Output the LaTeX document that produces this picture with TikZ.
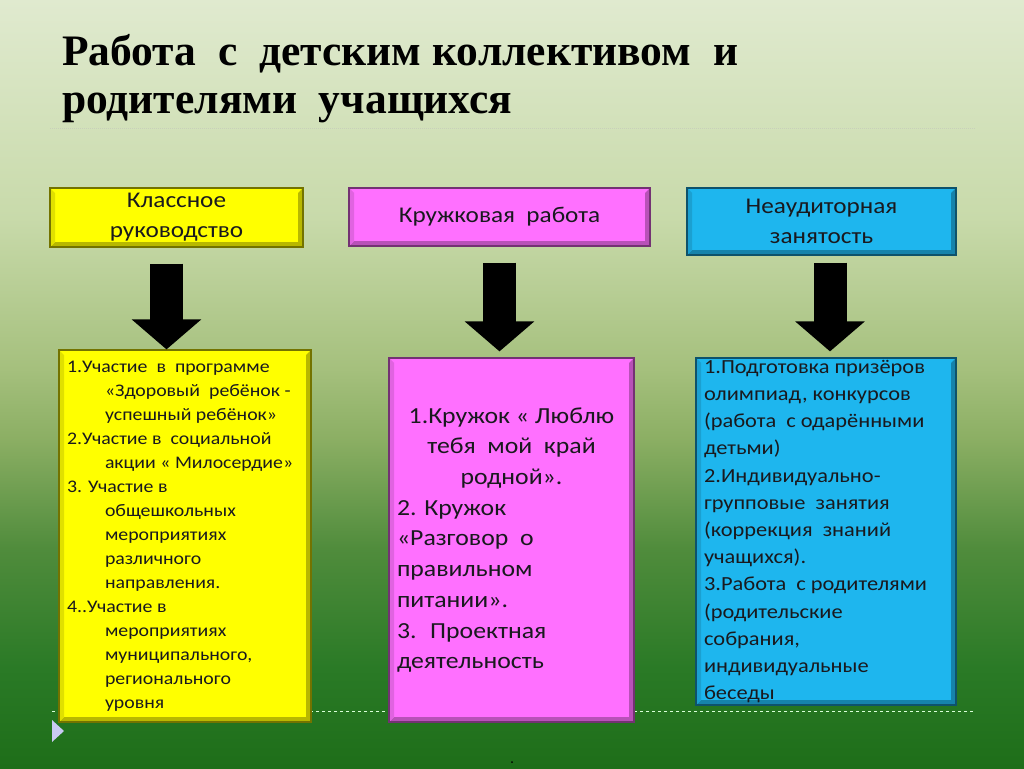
\documentclass[tikz,border=0pt]{standalone}
\usepackage{fontspec}
\setmainfont[FakeStretch=1.12]{Carlito}
\newfontfamily\titlefont{Liberation Serif}
\usepackage{tikz}
\usetikzlibrary{arrows.meta}

\definecolor{bg0}{RGB}{30,110,25}
\definecolor{bg1}{RGB}{42,122,38}
\definecolor{bg2}{RGB}{80,140,60}
\definecolor{bg3}{RGB}{140,175,100}
\definecolor{bg4}{RGB}{165,192,125}
\definecolor{bg5}{RGB}{200,218,170}
\definecolor{bg6}{RGB}{224,234,207}
\definecolor{boxyellow}{RGB}{255,255,0}
\definecolor{boxpink}{RGB}{255,112,255}
\definecolor{boxblue}{RGB}{30,182,238}
\definecolor{inktext}{RGB}{25,25,30}

\pgfdeclareverticalshading{slidebg}{100bp}{color(0bp)=(bg0); color(25bp)=(bg0);
  color(31.5bp)=(bg1); color(39.3bp)=(bg2); color(46.5bp)=(bg3); color(51bp)=(bg4);
  color(60.8bp)=(bg5); color(75bp)=(bg6); color(100bp)=(bg6)}

\begin{document}
\begin{tikzpicture}[x=1pt, y=-1pt,
    bevelbox/.style={draw=#1!45!black, line width=1.2pt, fill=#1,
      text=inktext, inner ysep=0pt, inner xsep=8pt,
      path picture={
        \fill[#1!72!black]
          (path picture bounding box.south west) -- (path picture bounding box.south east)
          -- (path picture bounding box.north east)
          -- ([shift={(-5pt,-5pt)}]path picture bounding box.north east)
          -- ([shift={(-5pt,5pt)}]path picture bounding box.south east)
          -- ([shift={(5pt,5pt)}]path picture bounding box.south west) -- cycle;
        \fill[#1!88!black]
          (path picture bounding box.south west)
          -- ([shift={(5pt,5pt)}]path picture bounding box.south west)
          -- ([shift={(5pt,-5pt)}]path picture bounding box.north west)
          -- (path picture bounding box.north west) -- cycle;
      }},
    headbox/.style={bevelbox=#1, align=center,
      font=\fontsize{22.5}{30}\selectfont},
    listbox/.style={bevelbox=#1, align=flush left},
    blockarrow/.style={draw=black, line width=33pt,
      -{Triangle[width=68pt, length=30pt]}}
  ]
  \useasboundingbox (0,0) rectangle (1024,768);
  % background
  \shade[shading=slidebg] (0,0) rectangle (1024,768);
  \draw[bg6!75!gray, densely dotted, line width=1pt] (50,128) -- (975,128);
  \draw[white!85!green, dashed, line width=0.6pt] (52,711) -- (975,711);
  \fill[gray!35!blue!25!white] (52,720) -- (64,731) -- (52,742) -- cycle;
  \fill[black] (512,762) circle (1pt);

  % title
  \node[anchor=base west, inner sep=0pt, font=\titlefont\bfseries\fontsize{43.5}{48}\selectfont] (title1)
    at (62,65) {Работа~~с~~детским коллективом~~и};
  \node[anchor=base west, inner sep=0pt, font=\titlefont\bfseries\fontsize{43.5}{48}\selectfont] (title2)
    at (62,113) {родителями~~учащихся};

  % Define nodes
  \node[headbox=boxyellow, minimum width=253pt, minimum height=59pt] (kl) at (176.5,217.5)
    {Классное\\руководство};
  \node[headbox=boxpink, minimum width=301pt, minimum height=58pt] (kr) at (499.5,217)
    {Кружковая~ работа};
  \node[headbox=boxblue, minimum width=269pt, minimum height=67pt] (nz) at (821.5,221.5)
    {Неаудиторная\\занятость};

  \node[listbox=boxyellow, minimum width=252pt, minimum height=372pt, text width=236pt,
    font=\fontsize{17.7}{24}\selectfont] (kl-list) at (185,536) {%
    1.Участие~ в~ программе\\
    \hspace*{38pt}«Здоровый~ ребёнок -\\
    \hspace*{38pt}успешный ребёнок»\\
    2.Участие в~ социальной\\
    \hspace*{38pt}акции « Милосердие»\\
    3. Участие в\\
    \hspace*{38pt}общешкольных\\
    \hspace*{38pt}мероприятиях\\
    \hspace*{38pt}различного\\
    \hspace*{38pt}направления.\\
    4..Участие в\\
    \hspace*{38pt}мероприятиях\\
    \hspace*{38pt}муниципального,\\
    \hspace*{38pt}регионального\\
    \hspace*{38pt}уровня};
  \node[listbox=boxpink, minimum width=245pt, minimum height=364pt, text width=229pt,
    font=\fontsize{23}{30.7}\selectfont] (kr-list) at (511.5,540) {%
    {\centering 1.Кружок « Люблю\\тебя~ мой~ край\\родной».\par}
    2. Кружок\\
    «Разговор~ о\\
    правильном\\
    питании».\\
    3.~ Проектная\\
    деятельность};
  \node[listbox=boxblue, minimum width=260pt, minimum height=347pt, text width=244pt,
    font=\fontsize{20}{27.2}\selectfont] (nz-list) at (826,531.5) {%
    1.Подготовка призёров\\
    олимпиад, конкурсов\\
    (работа~ с одарёнными\\
    детьми)\\
    2.Индивидуально-\\
    групповые~ занятия\\
    (коррекция~ знаний\\
    учащихся).\\
    3.Работа~ с родителями\\
    (родительские\\
    собрания,\\
    индивидуальные\\
    беседы};

  % Connect nodes
  \draw[blockarrow] ([xshift=-10pt,yshift=-16pt]kl.south) -- ([xshift=-10pt]kl.south |- kl-list.north);
  \draw[blockarrow, shorten >=6pt] ([yshift=-16pt]kr.south) -- (kr.south |- kr-list.north);
  \draw[blockarrow, shorten >=6pt] ([xshift=8.5pt,yshift=-7pt]nz.south) -- ([xshift=8.5pt]nz.south |- nz-list.north);
\end{tikzpicture}
\end{document}
